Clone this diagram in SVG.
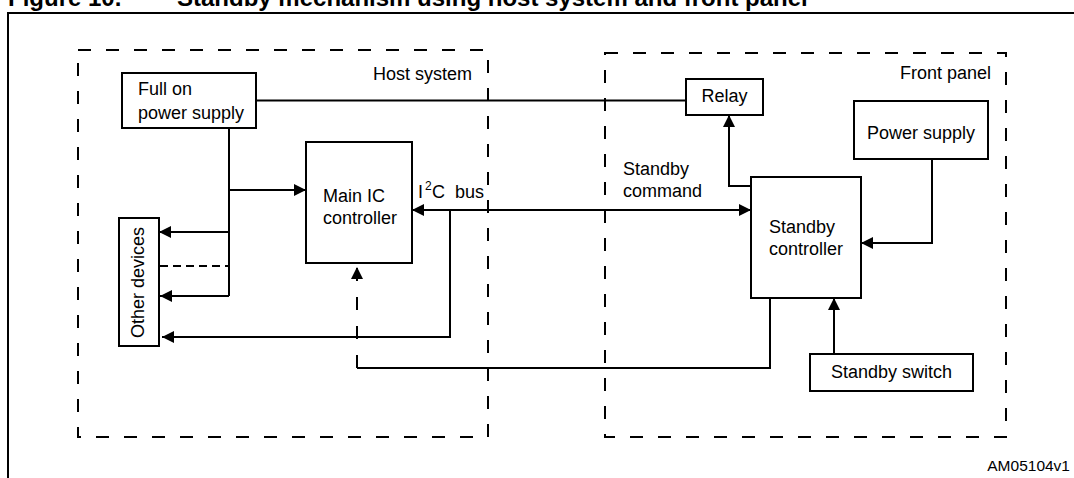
<svg xmlns="http://www.w3.org/2000/svg" width="1074" height="478" viewBox="0 0 1074 478">
<style>
text{font-family:"Liberation Sans",Arial,sans-serif;font-size:18px;fill:#000}
.title{font-weight:bold;font-size:24px}
.box{fill:#fff;stroke:#000;stroke-width:2}
.zone{fill:none;stroke:#000;stroke-width:2;stroke-dasharray:13 15}
.ln{fill:none;stroke:#000;stroke-width:2}
.dash{fill:none;stroke:#000;stroke-width:2;stroke-dasharray:8 5}
.dash2{fill:none;stroke:#000;stroke-width:2;stroke-dasharray:13 16}
.arr{marker-end:url(#ah)}
</style>
<defs>
<marker id="ah" markerUnits="userSpaceOnUse" markerWidth="12" markerHeight="12" refX="12" refY="6" orient="auto-start-reverse" viewBox="0 0 12 12">
<path d="M0,0 L12,6 L0,12 z" fill="#000"/>
</marker>
</defs>
<g id="title">
<text class="title" x="8" y="5.5">Figure 10.</text>
<text class="title" x="177" y="5.5">Standby mechanism using host system and front panel</text>
</g>
<g id="frame">
<path class="ln" d="M8,478 V13 H1074"/>
</g>
<g id="host-system">
<rect class="zone" x="78" y="50" width="410" height="387"/>
<text x="373" y="80">Host system</text>
</g>
<g id="front-panel">
<rect class="zone" x="605" y="53" width="401" height="384"/>
<text x="900" y="79">Front panel</text>
</g>
<g id="connectors">
<path class="ln" d="M256,100.5 H686"/>
<path class="ln" d="M229,128 V296"/>
<path class="ln arr" d="M229,190 H306"/>
<path class="ln arr" d="M229,232 H159"/>
<path class="ln arr" d="M229,296 H160"/>
<path class="dash" d="M160,266 H229"/>
<path class="ln" d="M412,210 H751" marker-start="url(#ah)" marker-end="url(#ah)"/>
<path class="ln arr" d="M450,210 V337 H162"/>
<path class="ln arr" d="M751,186 H729 V115"/>
<path class="ln arr" d="M932,159 V243 H861"/>
<path class="ln arr" d="M834,354 V298"/>
<path class="ln" d="M770,298 V368 H357"/>
<path class="dash2 arr" d="M357,368 V267"/>
</g>
<g id="full-on-power-supply">
<rect class="box" x="122" y="73" width="134" height="55"/>
<text x="138" y="95">Full on</text>
<text x="138" y="119">power supply</text>
</g>
<g id="main-ic-controller">
<rect class="box" x="306" y="142" width="106" height="121"/>
<text x="323" y="202">Main IC</text>
<text x="323" y="224">controller</text>
</g>
<g id="i2c-label">
<text x="418" y="198">I</text>
<text x="425" y="190" style="font-size:12px">2</text>
<text x="432" y="198">C</text>
<text x="455" y="198">bus</text>
</g>
<g id="other-devices">
<rect class="box" x="119" y="218" width="40" height="128"/>
<text transform="translate(144,338) rotate(-90)">Other devices</text>
</g>
<g id="standby-command-label">
<text x="623" y="175">Standby</text>
<text x="623" y="197">command</text>
</g>
<g id="relay">
<rect class="box" x="686" y="79" width="77" height="36"/>
<text x="724.5" y="102" text-anchor="middle">Relay</text>
</g>
<g id="power-supply">
<rect class="box" x="854" y="101" width="134" height="58"/>
<text x="921" y="139" text-anchor="middle">Power supply</text>
</g>
<g id="standby-controller">
<rect class="box" x="751" y="177" width="110" height="121"/>
<text x="769" y="233">Standby</text>
<text x="769" y="255">controller</text>
</g>
<g id="standby-switch">
<rect class="box" x="810" y="354" width="163" height="37"/>
<text x="891.5" y="378" text-anchor="middle">Standby switch</text>
</g>
<text x="1070" y="471" text-anchor="end" style="font-size:15.5px">AM05104v1</text>
</svg>
